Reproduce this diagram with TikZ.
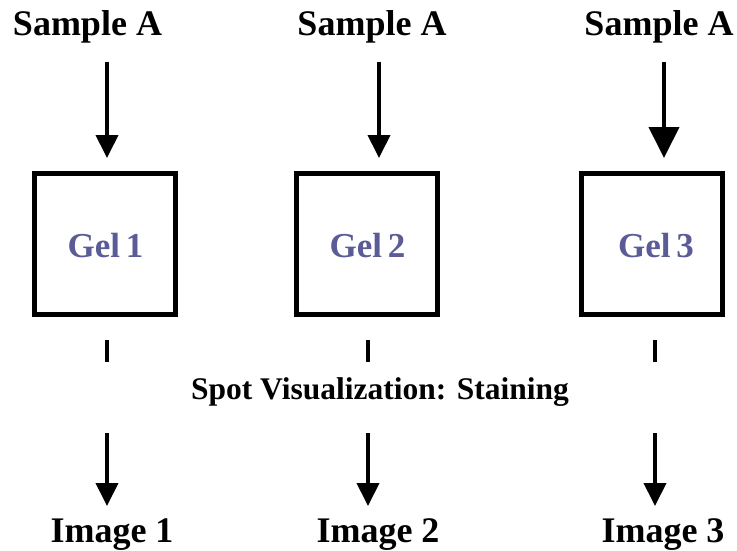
\documentclass[tikz,border=0pt]{standalone}
\usepackage{fontspec}
\setmainfont{Liberation Serif}
\usetikzlibrary{arrows.meta}
\definecolor{gelblue}{HTML}{5B5B98}
\tikzset{
  x=1pt, y=-1pt,
  label/.style={font=\fontsize{36}{40}\selectfont\bfseries, anchor=base, inner sep=0pt},
  gelbox/.style={draw, line width=5pt, minimum width=141pt, minimum height=141pt, inner sep=0pt},
  geltext/.style={font=\fontsize{35}{40}\selectfont\bfseries, text=gelblue, anchor=base, inner sep=0pt},
  note/.style={font=\fontsize{31.5}{36}\selectfont\bfseries, anchor=base, inner sep=0pt},
  arr/.style={line width=4pt, -{Triangle[width=22pt,length=23pt]}},
  bigarr/.style={line width=4pt, -{Triangle[width=30pt,length=31pt]}},
  tick/.style={line width=4pt}
}
\begin{document}
\begin{tikzpicture}
\useasboundingbox (0,0) rectangle (737,551);

% inputs
\node[label] (s1) at (87.5,36) {Sample A};
\node[label] (s2) at (372,36) {Sample A};
\node[label] (s3) at (659,36) {Sample A};

% gels
\node[gelbox] (g1) at (105,244) {};
\node[gelbox] (g2) at (367,244) {};
\node[gelbox] (g3) at (652,244) {};
\node[geltext] (t1) at (105.5,257) {Gel\hspace{-3pt} 1};
\node[geltext] (t2) at (367.5,257) {Gel\hspace{-3pt} 2};
\node[geltext] (t3) at (656,257) {Gel\hspace{-3pt} 3};

% staining step
\node[note] (spot) at (380,399) {Spot Visualization: Staining};

% outputs
\node[label] (i1) at (112,542) {Image 1};
\node[label] (i2) at (378,542) {Image 2};
\node[label] (i3) at (663,542) {Image 3};

% arrow end points
\coordinate (a1) at (107,62);  \coordinate (b1) at (107,158);
\coordinate (a2) at (379,62);  \coordinate (b2) at (379,158);
\coordinate (a3) at (664,62);  \coordinate (b3) at (664,158);
\coordinate (k1) at (107,340); \coordinate (l1) at (107,362);
\coordinate (k2) at (368,340); \coordinate (l2) at (368,362);
\coordinate (k3) at (655,340); \coordinate (l3) at (655,362);
\coordinate (m1) at (107,433); \coordinate (n1) at (107,506);
\coordinate (m2) at (368,433); \coordinate (n2) at (368,506);
\coordinate (m3) at (655,433); \coordinate (n3) at (655,506);

% sample to gel
\draw[arr] (a1) -- (b1);
\draw[arr] (a2) -- (b2);
\draw[bigarr] (a3) -- (b3);

% short marks below the gels
\draw[tick] (k1) -- (l1);
\draw[tick] (k2) -- (l2);
\draw[tick] (k3) -- (l3);

% to images
\draw[arr] (m1) -- (n1);
\draw[arr] (m2) -- (n2);
\draw[arr] (m3) -- (n3);
\end{tikzpicture}
\end{document}
